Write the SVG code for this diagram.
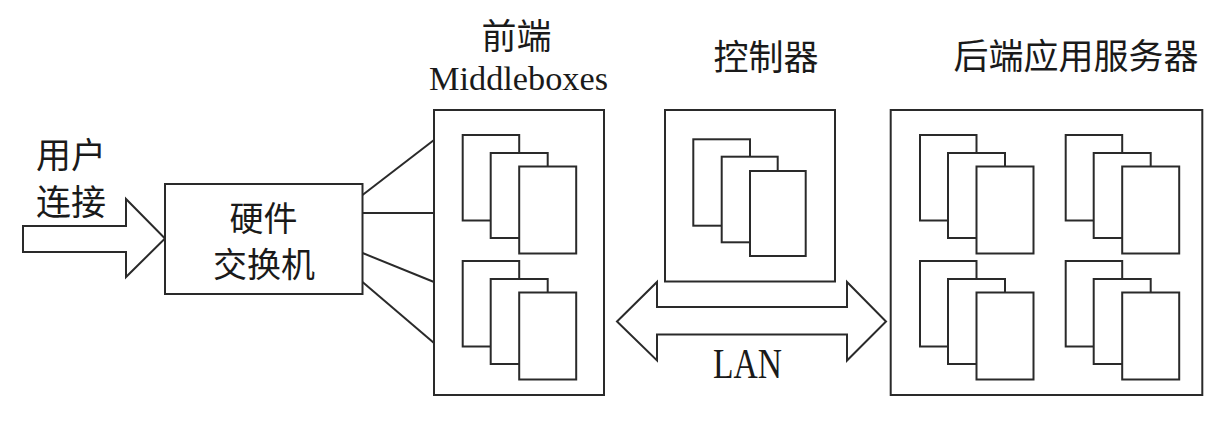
<svg xmlns="http://www.w3.org/2000/svg" width="1229" height="424" viewBox="0 0 1229 424">
<style>
.bx{fill:#fff;stroke:#2a2a2a;stroke-width:2}
.pg{fill:#fff;stroke:#2a2a2a;stroke-width:2}
.ln{fill:none;stroke:#2a2a2a;stroke-width:2}
.cjk{font-family:"Noto Sans CJK SC","Noto Sans",sans-serif;font-size:35px;fill:#1a1a1a;dominant-baseline:central}
.lat{font-family:"Liberation Serif","Times New Roman",serif;fill:#1a1a1a}
</style>
<defs>
<g id="stack">
<rect class="pg" x="0" y="0" width="56.5" height="85.5"/>
<rect class="pg" x="28" y="18" width="57" height="85"/>
<rect class="pg" x="56.5" y="31.5" width="57" height="87"/>
</g>
</defs>
<rect width="1229" height="424" fill="#fff"/>

<g id="user-arrow">
<polygon class="ln" points="23,226 126,226 126,199 165,238.5 126,277 126,252 23,252" style="fill:#fff"/>
<text class="cjk" x="36" y="152">用户</text>
<text class="cjk" x="36" y="199">连接</text>
</g>

<g id="switch">
<rect class="bx" x="165" y="184" width="197.5" height="110"/>
<text class="cjk" x="263.5" y="216" text-anchor="middle" style="font-size:34px">硬件</text>
<text class="cjk" x="264" y="262.5" text-anchor="middle" style="font-size:34px">交换机</text>
</g>

<g id="connectors">
<line class="ln" x1="362.5" y1="195" x2="434" y2="140"/>
<line class="ln" x1="362.5" y1="213" x2="434" y2="213"/>
<line class="ln" x1="362.5" y1="253" x2="434" y2="282"/>
<line class="ln" x1="362.5" y1="282" x2="434" y2="343"/>
</g>

<g id="middleboxes">
<text class="cjk" x="516.5" y="33" text-anchor="middle">前端</text>
<text class="lat" x="518.5" y="90" font-size="34.5" text-anchor="middle" textLength="179" lengthAdjust="spacingAndGlyphs">Middleboxes</text>
<rect class="bx" x="434" y="110" width="170" height="285"/>
<use href="#stack" x="462.7" y="135"/>
<use href="#stack" x="462.7" y="261"/>
</g>

<g id="controller">
<text class="cjk" x="766" y="54" text-anchor="middle">控制器</text>
<rect class="bx" x="665" y="110" width="170" height="171.5"/>
<rect class="pg" x="693.3" y="139.3" width="56.7" height="86.4"/>
<rect class="pg" x="721.7" y="156.7" width="56" height="85.6"/>
<rect class="pg" x="750" y="171" width="55.7" height="85"/>
</g>

<g id="lan">
<polygon class="ln" points="617,321.5 657,282 657,307 847,307 847,282 886,321.5 847,360.5 847,334.5 657,334.5 657,360.5" style="fill:#fff"/>
<text class="lat" x="747.5" y="378.3" font-size="42" text-anchor="middle" textLength="69" lengthAdjust="spacingAndGlyphs">LAN</text>
</g>

<g id="backend">
<text class="cjk" x="1076" y="53.5" text-anchor="middle">后端应用服务器</text>
<rect class="bx" x="890.7" y="110" width="311.6" height="285"/>
<use href="#stack" x="920" y="135"/>
<use href="#stack" x="1065.7" y="135"/>
<use href="#stack" x="920" y="261"/>
<use href="#stack" x="1065.7" y="261"/>
</g>
</svg>
